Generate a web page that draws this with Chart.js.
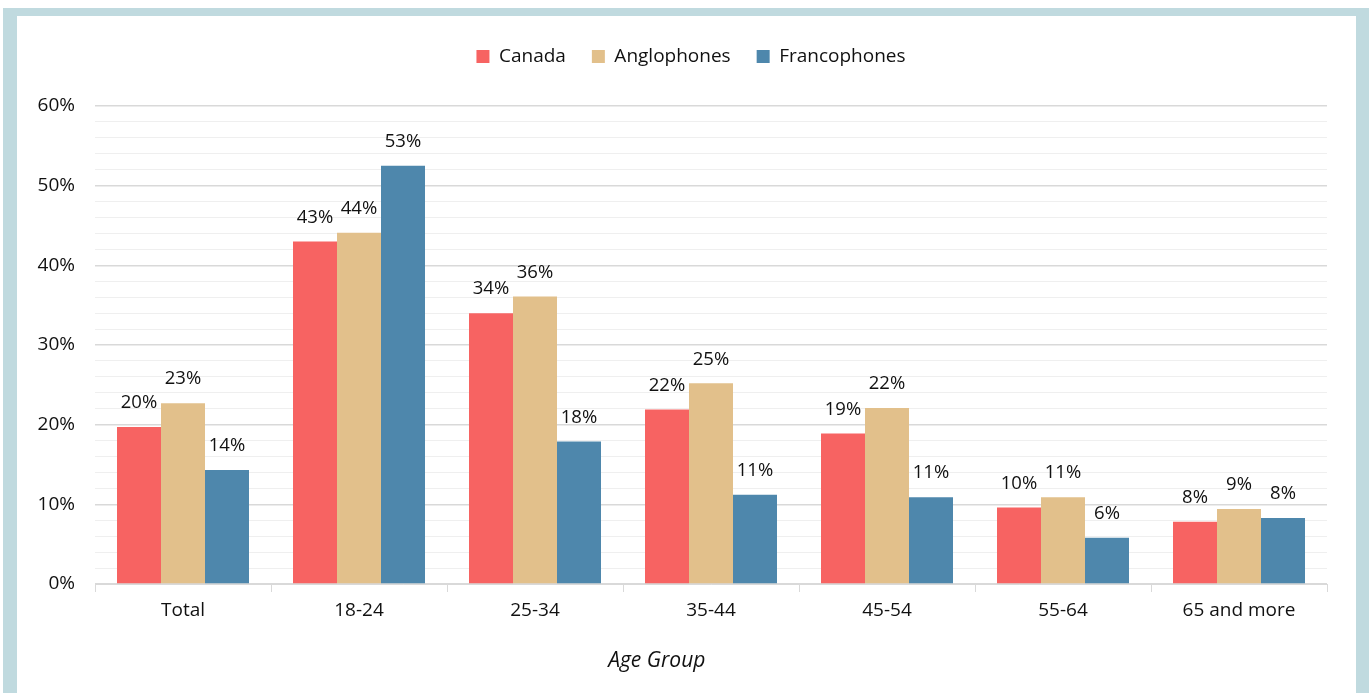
<!DOCTYPE html>
<html>
<head>
<meta charset="utf-8">
<script src="https://cdn.jsdelivr.net/npm/chart.js@4"></script>
<style>
  html, body { margin:0; padding:0; background:#fff; overflow:hidden; }
  #frame { position:absolute; left:3px; top:8px; height:700px; background:#fff;
           border-left:14px solid #C0DADF; border-top:8px solid #C0DADF; border-right:13px solid #C0DADF; box-sizing:border-box; width:1366px; }
  #wrap { position:absolute; left:0; top:0; width:1339px; height:677px; }
</style>
</head>
<body>
<div id="frame"><div id="wrap"><canvas id="c" width="1339" height="677"></canvas></div></div>
<script>
const categories = ['Total', '18-24', '25-34', '35-44', '45-54', '55-64', '65 and more'];
const canada       = [19.7, 43.0, 34.0, 21.9, 18.9, 9.6, 7.8];
const anglophones  = [22.7, 44.1, 36.1, 25.2, 22.1, 10.9, 9.4];
const francophones = [14.3, 52.5, 17.9, 11.2, 10.9, 5.8, 8.3];
const seriesNames = ['Canada', 'Anglophones', 'Francophones'];
const yTicks = [0, 10, 20, 30, 40, 50, 60];
const axisTitle = 'Age Group';

const FONT = "'Open Sans', 'Liberation Sans', sans-serif";
const colors = ['#F76362', '#E2C08B', '#4E87AC'];

const dataLabels = {
  id: 'dataLabels',
  afterDatasetsDraw(chart) {
    const ctx = chart.ctx;
    ctx.save();
    ctx.font = "18.5px " + FONT;
    ctx.fillStyle = '#111';
    ctx.textAlign = 'center';
    ctx.textBaseline = 'middle';
    chart.data.datasets.forEach((ds, i) => {
      const meta = chart.getDatasetMeta(i);
      meta.data.forEach((bar, j) => {
        ctx.fillText(Math.round(ds.data[j]) + '%', bar.x, bar.y - 24);
      });
    });
    ctx.restore();
  }
};

const axisTitlePlugin = {
  id: 'axisTitle',
  afterDraw(chart) {
    const ctx = chart.ctx;
    const x = chart.scales.x;
    ctx.save();
    ctx.font = "italic 21px " + FONT;
    ctx.fillStyle = '#111';
    ctx.textAlign = 'center';
    ctx.textBaseline = 'middle';
    ctx.fillText(axisTitle, x.left + (x.right - x.left) * 0.456, x.top + 77);
    ctx.restore();
  }
};

const legendSpacing = {
  id: 'legendSpacing',
  beforeInit(chart) {
    const fit = chart.legend.fit;
    chart.legend.fit = function () { fit.bind(chart.legend)(); this.height += 30; };
  },
  afterLayout(chart) {
    chart.legend.left += 19;
    chart.legend.right += 19;
  }
};

new Chart(document.getElementById('c'), {
  type: 'bar',
  data: {
    labels: categories,
    datasets: [canada, anglophones, francophones].map((d, i) => ({
      label: seriesNames[i],
      data: d,
      backgroundColor: colors[i],
      borderWidth: 0,
      categoryPercentage: 0.75,
      barPercentage: 1.0
    }))
  },
  options: {
    responsive: false,
    animation: false,
    layout: { padding: { top: 5, right: 29, left: 0, bottom: 0 } },
    plugins: {
      legend: {
        position: 'top',
        labels: { font: { family: FONT, size: 19 }, color: '#111', boxWidth: 13, boxHeight: 13, padding: 26 }
      },
      tooltip: { enabled: false }
    },
    scales: {
      x: {
        grid: { drawOnChartArea: false, drawTicks: true, tickLength: 8, color: '#d9d9d9', offset: true },
        border: { color: '#d9d9d9', width: 1 },
        ticks: { font: { family: FONT, size: 19 }, color: '#111', padding: 7 },
        afterFit(s) { s.height = 109; }
      },
      y: {
        min: 0, max: 60,
        afterBuildTicks(s) {
          const t = [];
          for (let v = 0; v <= 60; v += 2) t.push({ value: v });
          s.ticks = t;
        },
        grid: {
          drawTicks: false,
          color: c => (yTicks.includes(c.tick.value) ? '#d9d9d9' : '#efefef'),
          lineWidth: c => (yTicks.includes(c.tick.value) ? 1.5 : 1)
        },
        border: { display: false },
        ticks: {
          font: { family: FONT, size: 19 }, color: '#111', padding: 20,
          autoSkip: false,
          callback: v => (yTicks.includes(v) ? v + '%' : '')
        },
        afterFit(s) { s.width = 78; }
      }
    }
  },
  plugins: [dataLabels, axisTitlePlugin, legendSpacing]
});
</script>
</body>
</html>
